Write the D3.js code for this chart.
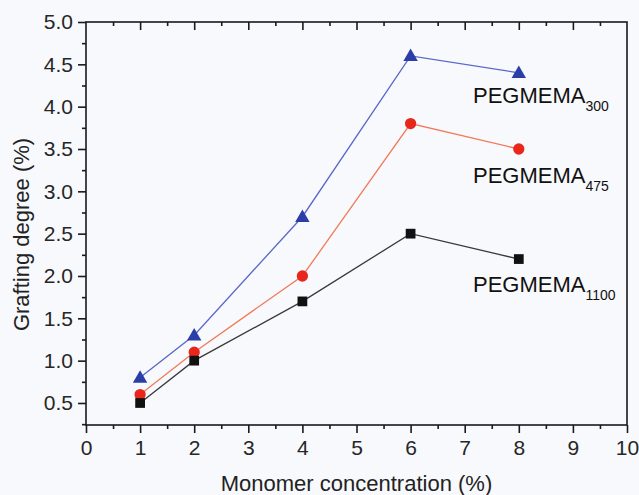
<!DOCTYPE html>
<html><head><meta charset="utf-8">
<script src="https://cdn.jsdelivr.net/npm/d3@7"></script>
<style>
html,body{margin:0;padding:0;background:#f8f9fc;}
svg{display:block;font-family:"Liberation Sans",Arial,sans-serif;}
</style></head>
<body>
<svg id="chart" width="639" height="495"></svg>
<script>
const concentrations = [1, 2, 4, 6, 8];
const peg300 = [0.8, 1.3, 2.7, 4.6, 4.4];
const peg475 = [0.6, 1.1, 2.0, 3.8, 3.5];
const peg1100 = [0.5, 1.0, 1.7, 2.5, 2.2];
const xTicks = [0,1,2,3,4,5,6,7,8,9,10];
const yTicks = [0.5,1.0,1.5,2.0,2.5,3.0,3.5,4.0,4.5,5.0];
const seriesNames = ["PEGMEMA", "PEGMEMA", "PEGMEMA"];
const seriesSubs = ["300", "475", "1100"];

const svg = d3.select("#chart");
const L = 86, R = 627, T = 22, B = 425;
const x = d3.scaleLinear().domain([0, 10]).range([L, R]);
const y = d3.scaleLinear().domain([0.24, 5.0]).range([B, T]);

svg.append("rect").attr("width",639).attr("height",495).attr("fill","#f8f9fc");

// frame
svg.append("rect").attr("x",L).attr("y",T).attr("width",R-L).attr("height",B-T)
  .attr("fill","none").attr("stroke","#1a1a1a").attr("stroke-width",1.6);

const minorX = d3.range(0.5, 10, 1);
const minorY = d3.range(0.25, 5.0, 0.5).filter(v => v > 0.24);

// bottom axis
svg.append("g").attr("transform",`translate(0,${B})`)
  .call(d3.axisBottom(x).tickValues(xTicks).tickFormat(d3.format("d")).tickSize(8).tickPadding(7));
svg.append("g").attr("transform",`translate(0,${B})`)
  .call(d3.axisBottom(x).tickValues(minorX).tickFormat("").tickSize(4));
// left axis
svg.append("g").attr("transform",`translate(${L},0)`)
  .call(d3.axisLeft(y).tickValues(yTicks).tickFormat(d3.format(".1f")).tickSize(8).tickPadding(5));
svg.append("g").attr("transform",`translate(${L},0)`)
  .call(d3.axisLeft(y).tickValues(minorY).tickFormat("").tickSize(4));
// top axis ticks (inward)
svg.append("g").attr("transform",`translate(0,${T})`)
  .call(d3.axisBottom(x).tickValues(xTicks.slice(1,-1)).tickFormat("").tickSize(8));
svg.append("g").attr("transform",`translate(0,${T})`)
  .call(d3.axisBottom(x).tickValues(minorX).tickFormat("").tickSize(4));

svg.selectAll(".domain").remove();
svg.selectAll(".tick line").attr("stroke","#1a1a1a").attr("stroke-width",1.6);
svg.selectAll(".tick text").attr("fill","#262626").style("font-size","21px")
  .style("font-family","'Liberation Sans',Arial,sans-serif");

// axis titles
svg.append("text").attr("x",(L+R)/2).attr("y",491).attr("text-anchor","middle")
  .attr("fill","#222").style("font-size","22px").text("Monomer concentration (%)");
svg.append("text").attr("transform",`translate(29,${(T+B)/2 + 11}) rotate(-90)`).attr("text-anchor","middle")
  .attr("fill","#222").style("font-size","22px").text("Grafting degree (%)");

const series = [
  {vals: peg300, line:"#5a67c8", mark:"#2b3ea8", shape:"tri"},
  {vals: peg475, line:"#f27a5a", mark:"#e8261c", shape:"circ"},
  {vals: peg1100, line:"#3a3a3a", mark:"#111111", shape:"sq"}
];
const line = d3.line().x((d,i)=>x(concentrations[i])).y(d=>y(d));
series.forEach(s => {
  svg.append("path").datum(s.vals).attr("d", line).attr("fill","none")
    .attr("stroke", s.line).attr("stroke-width",1.3);
  const sym = s.shape==="tri" ? d3.symbolTriangle : s.shape==="circ" ? d3.symbolCircle : d3.symbolSquare;
  const size = s.shape==="tri" ? 90 : s.shape==="circ" ? 100 : 95;
  svg.selectAll(null).data(s.vals).enter().append("path")
    .attr("d", d3.symbol().type(sym).size(size))
    .attr("transform",(d,i)=>`translate(${x(concentrations[i])},${y(d) + (s.shape==="tri"?1:0)})`)
    .attr("fill", s.mark);
});

// labels
const labelY = [103, 183, 292];
seriesNames.forEach((n,i) => {
  const t = svg.append("text").attr("x",473).attr("y",labelY[i]).attr("fill","#111")
    .style("font-size","22px");
  t.append("tspan").text(n);
  t.append("tspan").attr("dy",8).style("font-size","14px").text(seriesSubs[i]);
});
</script>
</body></html>
